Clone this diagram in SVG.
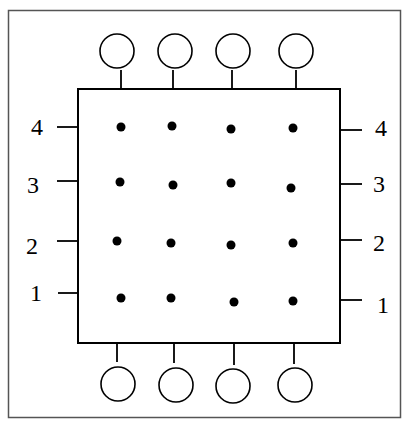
<svg xmlns="http://www.w3.org/2000/svg" width="404" height="422" viewBox="0 0 404 422">
<style>
.frame{fill:#fff;stroke:#555;stroke-width:1.5}
.box{fill:none;stroke:#000;stroke-width:2}
.pin{fill:none;stroke:#000;stroke-width:1.6}
.ln{stroke:#000;stroke-width:1.8}
.dot{fill:#000}
.lbl{font-family:"Liberation Serif","Times New Roman",serif;font-size:24px;fill:#000;text-anchor:middle}
</style>
<rect class="frame" x="8.5" y="10.5" width="392" height="407"/>
<g id="chip"><rect class="box" x="78" y="89" width="262" height="254"/></g>
<g id="connectors">
<line class="ln" x1="121" y1="70" x2="121" y2="89"/>
<line class="ln" x1="173" y1="70" x2="173" y2="89"/>
<line class="ln" x1="232" y1="70" x2="232" y2="89"/>
<line class="ln" x1="296" y1="70" x2="296" y2="89"/>
<line class="ln" x1="117" y1="343" x2="117" y2="362"/>
<line class="ln" x1="174" y1="343" x2="174" y2="363"/>
<line class="ln" x1="234" y1="343" x2="234" y2="365"/>
<line class="ln" x1="294" y1="343" x2="294" y2="364"/>
<line class="ln" x1="57" y1="127" x2="78" y2="127"/>
<line class="ln" x1="57" y1="181" x2="78" y2="181"/>
<line class="ln" x1="57" y1="241" x2="78" y2="241"/>
<line class="ln" x1="58" y1="293" x2="78" y2="293"/>
<line class="ln" x1="340" y1="130" x2="362" y2="130"/>
<line class="ln" x1="340" y1="184" x2="362" y2="184"/>
<line class="ln" x1="340" y1="240" x2="362" y2="240"/>
<line class="ln" x1="340" y1="300" x2="362" y2="300"/>
</g>
<g id="top-pins">
<circle class="pin" cx="117" cy="51" r="17"/>
<circle class="pin" cx="175" cy="51" r="17"/>
<circle class="pin" cx="233" cy="51" r="17"/>
<circle class="pin" cx="296" cy="51" r="17"/>
</g>
<g id="bottom-pins">
<circle class="pin" cx="118" cy="384" r="17"/>
<circle class="pin" cx="176" cy="385" r="17"/>
<circle class="pin" cx="233" cy="386" r="17"/>
<circle class="pin" cx="295" cy="385" r="17"/>
</g>
<g id="dots">
<circle class="dot" cx="121" cy="127" r="4.5"/>
<circle class="dot" cx="172" cy="126" r="4.5"/>
<circle class="dot" cx="231" cy="129" r="4.5"/>
<circle class="dot" cx="293" cy="128" r="4.5"/>
<circle class="dot" cx="120" cy="182" r="4.5"/>
<circle class="dot" cx="173" cy="185" r="4.5"/>
<circle class="dot" cx="231" cy="183" r="4.5"/>
<circle class="dot" cx="291" cy="188" r="4.5"/>
<circle class="dot" cx="117" cy="241" r="4.5"/>
<circle class="dot" cx="171" cy="243" r="4.5"/>
<circle class="dot" cx="231" cy="245" r="4.5"/>
<circle class="dot" cx="293" cy="243" r="4.5"/>
<circle class="dot" cx="121" cy="298" r="4.5"/>
<circle class="dot" cx="171" cy="298" r="4.5"/>
<circle class="dot" cx="234" cy="302" r="4.5"/>
<circle class="dot" cx="293" cy="301" r="4.5"/>
</g>
<g id="labels">
<text class="lbl" x="37" y="135">4</text>
<text class="lbl" x="33" y="193">3</text>
<text class="lbl" x="32" y="254">2</text>
<text class="lbl" x="36" y="301">1</text>
<text class="lbl" x="381" y="136">4</text>
<text class="lbl" x="379" y="192">3</text>
<text class="lbl" x="379" y="251">2</text>
<text class="lbl" x="383" y="313">1</text>
</g>
</svg>
